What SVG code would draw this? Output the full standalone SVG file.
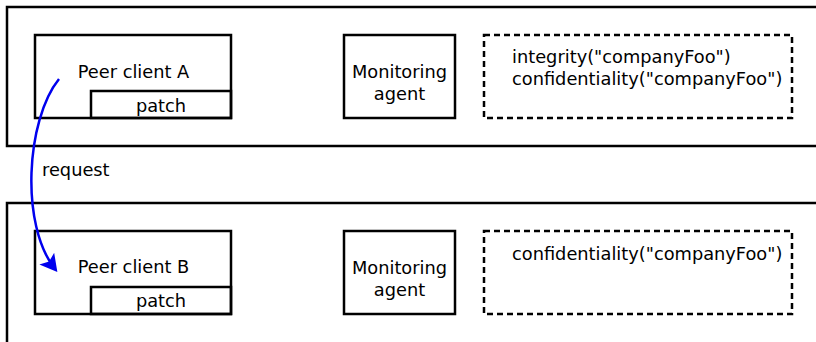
<svg xmlns="http://www.w3.org/2000/svg" width="816" height="342" viewBox="0 0 816 342">
  <style>
    .box { fill: none; stroke: #000; stroke-width: 2.5; }
    .dash { fill: none; stroke: #000; stroke-width: 2.5; stroke-dasharray: 6 4; }
    text { font-family: "DejaVu Sans", sans-serif; font-size: 17.8px; fill: #000; }
    .c { text-anchor: middle; }
    .flow { fill: none; stroke: #0000ee; stroke-width: 2.5; }
  </style>
  <defs>
    <marker id="head" viewBox="0 0 9 10" refX="7" refY="5" markerWidth="6.8" markerHeight="7.6" orient="auto" markerUnits="strokeWidth">
      <path d="M0,0 L9,5 L0,10 L2,5 Z" fill="#0000ee"/>
    </marker>
  </defs>

  <!-- host containers -->
  <g id="hostA">
    <rect class="box" x="7" y="7" width="820" height="139"/>
  </g>
  <g id="hostB">
    <rect class="box" x="7" y="203" width="820" height="150"/>
  </g>

  <g id="peerA">
    <rect class="box" x="35" y="35" width="196" height="83"/>
    <text class="c" x="133.5" y="77.5">Peer client A</text>
  </g>
  <g id="patchA">
    <rect class="box" x="91" y="91" width="140" height="27"/>
    <text class="c" x="161" y="111.5">patch</text>
  </g>
  <g id="monitorA">
    <rect class="box" x="344" y="35" width="111" height="83"/>
    <text class="c" x="399.5" y="78">Monitoring</text>
    <text class="c" x="399.5" y="99.5">agent</text>
  </g>
  <g id="policyA">
    <rect class="dash" x="484" y="35" width="308" height="83"/>
    <text x="512" y="62.5">integrity("companyFoo")</text>
    <text x="512" y="84.5">confidentiality("companyFoo")</text>
  </g>

  <g id="peerB">
    <rect class="box" x="35" y="231" width="196" height="83"/>
    <text class="c" x="133.5" y="273">Peer client B</text>
  </g>
  <g id="patchB">
    <rect class="box" x="91" y="287" width="140" height="27"/>
    <text class="c" x="161" y="307">patch</text>
  </g>
  <g id="monitorB">
    <rect class="box" x="344" y="231" width="111" height="83"/>
    <text class="c" x="399.5" y="274">Monitoring</text>
    <text class="c" x="399.5" y="295.5">agent</text>
  </g>
  <g id="policyB">
    <rect class="dash" x="484" y="231" width="308" height="83"/>
    <text x="512" y="260">confidentiality("companyFoo")</text>
  </g>

  <g id="connectors">
    <path class="flow" d="M59,79 C26,120 20,225 55,269" marker-end="url(#head)"/>
    <text x="42" y="176">request</text>
  </g>
</svg>
